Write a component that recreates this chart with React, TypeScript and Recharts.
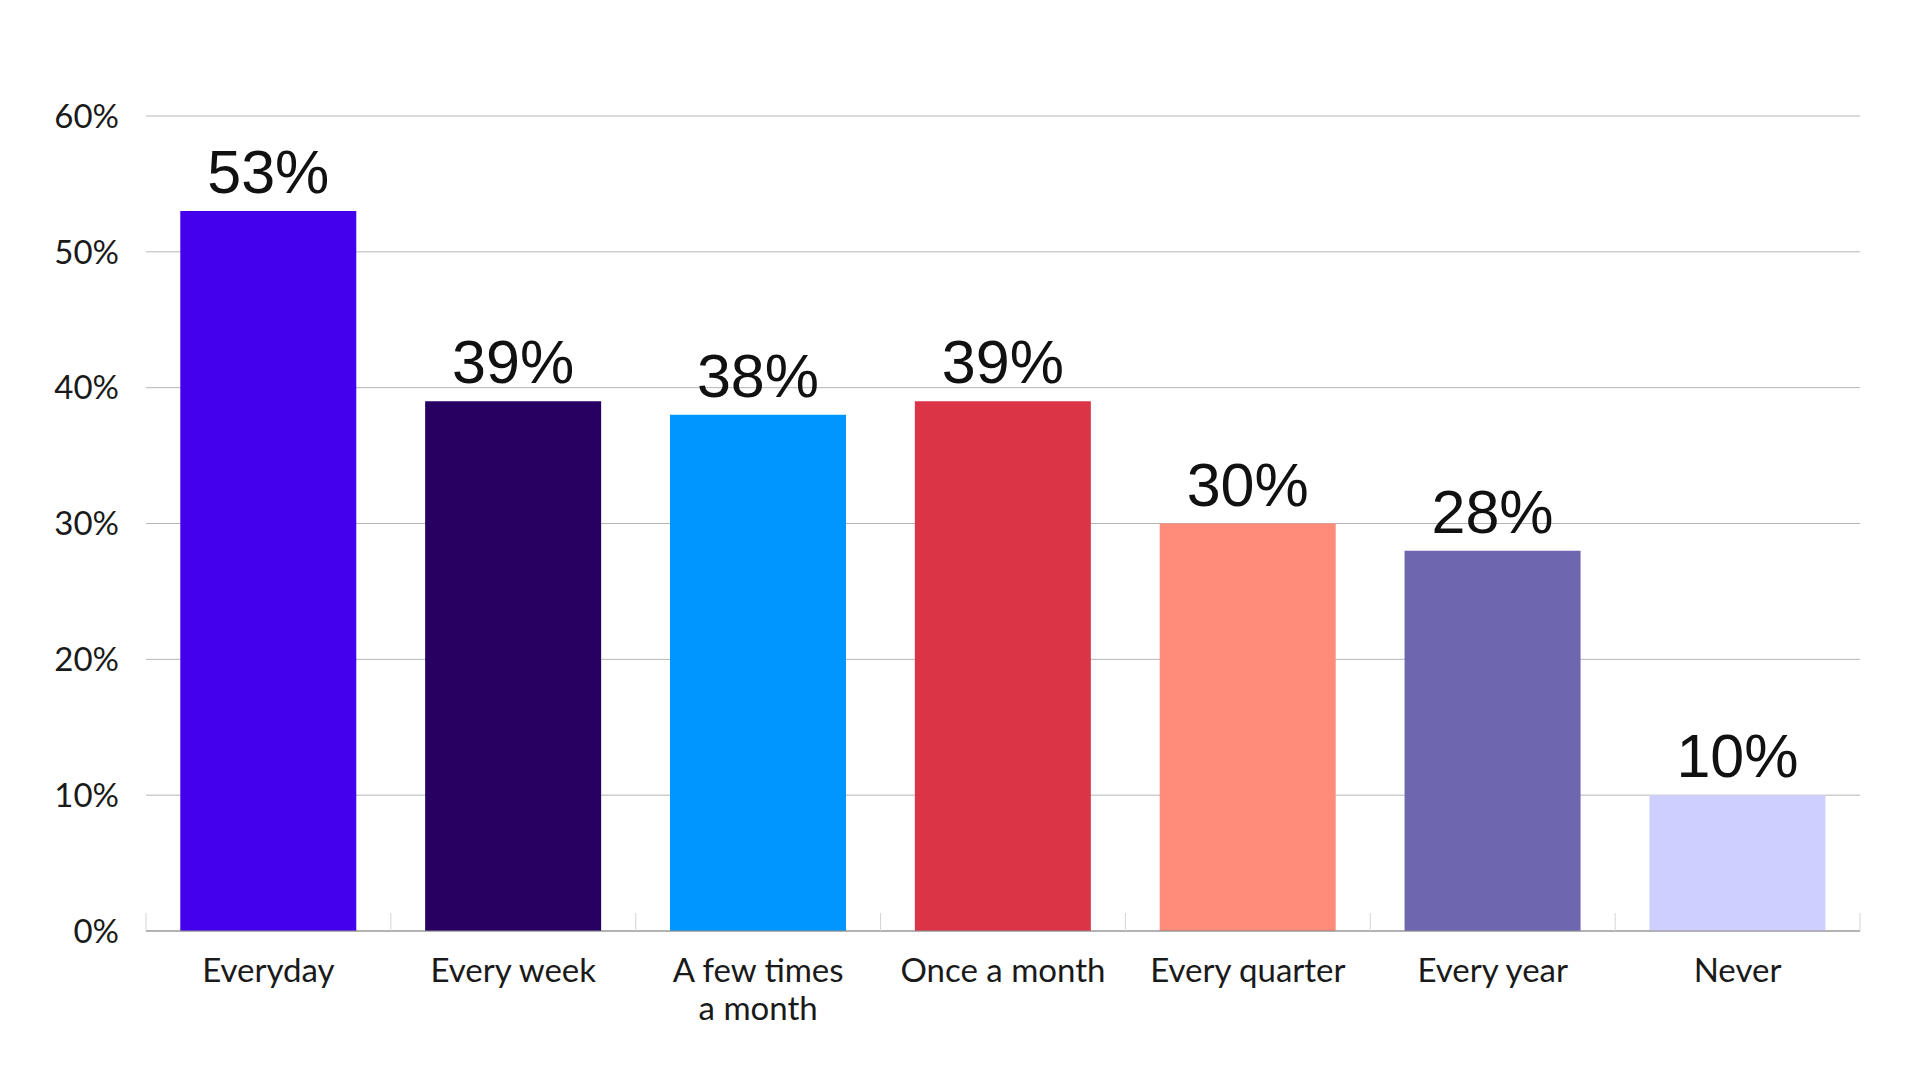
import React from 'react';
import { BarChart, Bar, XAxis, YAxis, CartesianGrid, Cell, LabelList } from 'recharts';

const categories = ['Everyday', 'Every week', 'A few times\na month', 'Once a month', 'Every quarter', 'Every year', 'Never'];
const shares = [53, 39, 38, 39, 30, 28, 10];
const barColors = ['#4400EC', '#270062', '#0096FF', '#DC3447', '#FF8C7B', '#6E67B0', '#CFCFFF'];
const yTicks = [0, 10, 20, 30, 40, 50, 60];

const chartData = categories.map((c, i) => ({ name: c, value: shares[i] }));

const TICK_MARGIN = 28;
const FONT = "Lato, 'Liberation Sans', sans-serif";

// category label plus the short upward separator marks at band boundaries
const CategoryTick = (props: any) => {
  const { x, y, payload, index } = props;
  const lines = String(payload.value).split('\n');
  const half = payload.offset || 0;
  const axisY = y - TICK_MARGIN;
  return (
    <g>
      <line x1={x - half} x2={x - half} y1={axisY} y2={axisY - 18} stroke="#d4d4d4" />
      {index === categories.length - 1 && (
        <line x1={x + half} x2={x + half} y1={axisY} y2={axisY - 18} stroke="#d4d4d4" />
      )}
      <text x={x} y={y} textAnchor="middle" fill="#1a1a1a" fontSize={33} fontFamily={FONT}>
        {lines.map((l, i) => (
          <tspan key={i} x={x} dy={i === 0 ? '0.71em' : 38}>{l}</tspan>
        ))}
      </text>
    </g>
  );
};

const App = () => {
  return (
    <div style={{ position: 'absolute', left: 0, top: 0, width: 1920, height: 1080, background: '#fff' }}>
      <BarChart
        width={1920}
        height={1080}
        data={chartData}
        margin={{ top: 116, right: 60, bottom: 0, left: 0 }}
        barCategoryGap="14%"
      >
        <CartesianGrid vertical={false} stroke="#b5b5b5" />
        <XAxis
          dataKey="name"
          interval={0}
          axisLine={{ stroke: '#8a8a8a' }}
          tickLine={false}
          tickSize={0}
          tickMargin={TICK_MARGIN}
          height={149}
          tick={<CategoryTick />}
        />
        <YAxis
          domain={[0, 60]}
          ticks={yTicks}
          width={146}
          axisLine={false}
          tickLine={false}
          tickSize={0}
          tickMargin={27}
          tickFormatter={(v) => `${v}%`}
          tick={{ fontSize: 33, fill: '#1a1a1a', fontFamily: FONT }}
        />
        <Bar dataKey="value" isAnimationActive={false}>
          {chartData.map((d, i) => (
            <Cell key={d.name} fill={barColors[i]} />
          ))}
          <LabelList
            dataKey="value"
            position="top"
            offset={18}
            formatter={(v: any) => `${v}%`}
            fill="#111"
            fontSize={61}
            fontFamily="'Liberation Sans', Arial, sans-serif"
          />
        </Bar>
      </BarChart>
    </div>
  );
};

export default App;
